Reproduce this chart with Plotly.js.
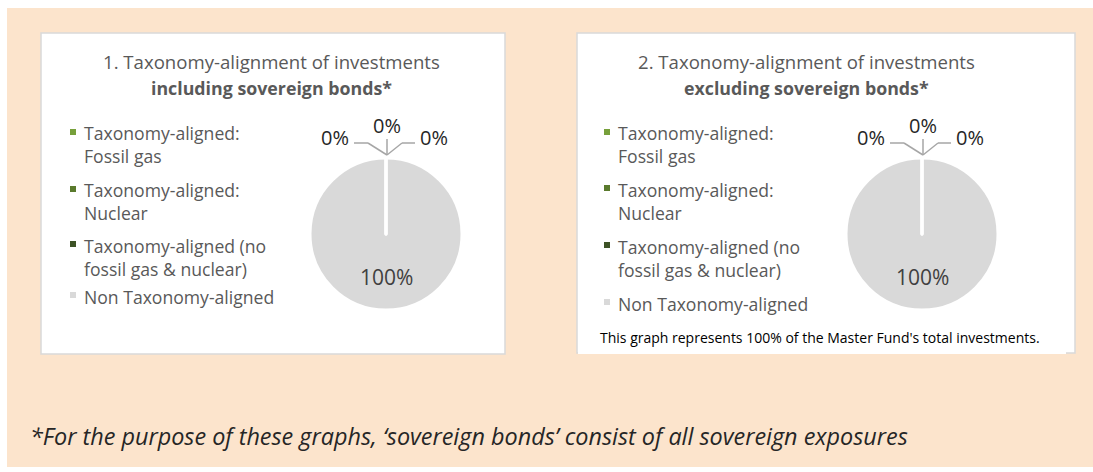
<!DOCTYPE html>
<html>
<head>
<meta charset="utf-8">
<script src="https://cdn.plot.ly/plotly-3.0.1.min.js"></script>
<style>html,body{margin:0;padding:0;background:#fff;}#chart{width:1093px;height:472px;}</style>
</head>
<body>
<div id="chart"></div>
<script>
// ---- data ----
const categories = ["Taxonomy-aligned: Fossil gas", "Taxonomy-aligned: Nuclear", "Taxonomy-aligned (no fossil gas & nuclear)", "Non Taxonomy-aligned"];
const legendLabels = ["Taxonomy-aligned:<br>Fossil gas", "Taxonomy-aligned:<br>Nuclear", "Taxonomy-aligned (no<br>fossil gas & nuclear)", "Non Taxonomy-aligned"];
const valuesInclSovereign = [0, 0, 0, 100];
const valuesExclSovereign = [0, 0, 0, 100];
const sliceColors = ["#77A03B", "#5A7A2D", "#3D5326", "#D9D9D9"];
const chartTitles = ["1. Taxonomy-alignment of investments", "2. Taxonomy-alignment of investments"];
const chartSubtitles = ["including sovereign bonds*", "excluding sovereign bonds*"];
const noteText = "This graph represents 100% of the Master Fund's total investments.";
const footnoteText = "*For the purpose of these graphs, \u2018sovereign bonds\u2019 consist of all sovereign exposures";

// ---- layout helpers (pixel -> paper) ----
const W = 1093, H = 472;
const px = x => x / W;
const py = y => 1 - y / H;
const FONT = "'Open Sans', Lato, sans-serif";

const panels = [
  {x0: 41, y0: 33, x1: 505, y1: 354, cx: 386, cy: 234, r: 76, titleX: 271, legX: 73, legY: [144, 201, 256, 295]},
  {x0: 577, y0: 33, x1: 1075, y1: 353, cx: 922, cy: 234, r: 76, titleX: 806, legX: 607, legY: [144, 200, 257, 302]}
];
const datasets = [valuesInclSovereign, valuesExclSovereign];

const traces = [];
const shapes = [];
const annotations = [];

// background
shapes.push({type: 'rect', xref: 'paper', yref: 'paper', x0: px(7), x1: px(1093), y0: py(467), y1: py(8),
  fillcolor: '#FCE4CC', line: {width: 0}, layer: 'below'});

panels.forEach((p, k) => {
  const vals = datasets[k];
  const total = vals.reduce((a, b) => a + b, 0);
  const pct = v => Math.round(100 * v / total) + '%';

  shapes.push({type: 'rect', xref: 'paper', yref: 'paper', x0: px(p.x0), x1: px(p.x1), y0: py(p.y1), y1: py(p.y0),
    fillcolor: '#FFFFFF', line: {color: '#D9D9D9', width: 1.5}, layer: 'below'});

  traces.push({
    type: 'pie', values: vals, labels: categories, sort: true, direction: 'clockwise', rotation: 0,
    marker: {colors: sliceColors, line: {color: '#FFFFFF', width: 3}},
    textinfo: 'none', hoverinfo: 'label+percent', showlegend: false,
    domain: {x: [px(p.cx - p.r), px(p.cx + p.r)], y: [py(p.cy + p.r), py(p.cy - p.r)]}
  });

  // titles
  annotations.push({xref: 'paper', yref: 'paper', x: px(p.titleX), y: py(62), text: chartTitles[k], showarrow: false,
    xanchor: 'center', yanchor: 'middle', font: {family: FONT, size: 18.6, color: '#595959'}});
  annotations.push({xref: 'paper', yref: 'paper', x: px(p.titleX), y: py(88), text: '<b>' + chartSubtitles[k] + '</b>', showarrow: false,
    xanchor: 'center', yanchor: 'middle', font: {family: FONT, size: 17.8, color: '#595959'}});

  // legend
  legendLabels.forEach((lab, i) => {
    const nLines = lab.split('<br>').length;
    const yTop = p.legY[i] - (nLines === 2 ? 12 : 0);
    shapes.push({type: 'rect', xref: 'paper', yref: 'paper', x0: px(p.legX - 3), x1: px(p.legX + 3),
      y0: py(yTop + 3), y1: py(yTop - 3), fillcolor: sliceColors[i], line: {width: 0}});
    annotations.push({xref: 'paper', yref: 'paper', x: px(p.legX + 9), y: py(yTop - 12.5), text: lab, showarrow: false,
      xanchor: 'left', yanchor: 'top', align: 'left', font: {family: FONT, size: 17.6, color: '#595959'}});
  });

  // data labels with leader lines for the small slices
  const tip = {x: p.cx + 1, y: p.cy - p.r - 3};
  const lead = [
    {lx: p.cx - 51, ly: p.cy - 97, pts: [[tip.x, tip.y], [p.cx - 18, p.cy - 91], [p.cx - 32, p.cy - 91]]},
    {lx: p.cx + 1, ly: p.cy - 108, pts: [[tip.x, tip.y], [tip.x, p.cy - 95]]},
    {lx: p.cx + 48, ly: p.cy - 97, pts: [[tip.x, tip.y], [p.cx + 16, p.cy - 91], [p.cx + 29, p.cy - 91]]}
  ];
  let s = 0;
  vals.forEach((v, i) => {
    if (v / total < 0.05) {
      const L = lead[s++ % 3];
      for (let j = 0; j < L.pts.length - 1; j++) {
        shapes.push({type: 'line', xref: 'paper', yref: 'paper', x0: px(L.pts[j][0]), y0: py(L.pts[j][1]),
          x1: px(L.pts[j + 1][0]), y1: py(L.pts[j + 1][1]), line: {color: '#A6A6A6', width: 1.5}});
      }
      annotations.push({xref: 'paper', yref: 'paper', x: px(L.lx), y: py(L.ly), text: pct(v), showarrow: false,
        xanchor: 'center', yanchor: 'middle', font: {family: FONT, size: 20, color: '#262626'}});
    } else {
      annotations.push({xref: 'paper', yref: 'paper', x: px(p.cx), y: py(p.cy + 43), text: pct(v), showarrow: false,
        xanchor: 'center', yanchor: 'middle', font: {family: FONT, size: 21, color: '#404040'}});
    }
  });
});

// note box in panel 2
shapes.push({type: 'rect', xref: 'paper', yref: 'paper', x0: px(578), x1: px(1066), y0: py(354), y1: py(318),
  fillcolor: '#FFFFFF', line: {width: 0}});
annotations.push({xref: 'paper', yref: 'paper', x: px(598), y: py(337), text: noteText, showarrow: false,
  xanchor: 'left', yanchor: 'middle', font: {family: FONT, size: 14, color: '#000000'}});

// footnote
annotations.push({xref: 'paper', yref: 'paper', x: px(28), y: py(436), text: '<i>' + footnoteText + '</i>', showarrow: false,
  xanchor: 'left', yanchor: 'middle', font: {family: FONT, size: 23.4, color: '#262626'}});

const layout = {
  width: W, height: H, margin: {l: 0, r: 0, t: 0, b: 0}, paper_bgcolor: '#FFFFFF', plot_bgcolor: '#FFFFFF',
  showlegend: false, shapes: shapes, annotations: annotations, font: {family: FONT}
};
Plotly.newPlot('chart', traces, layout, {displayModeBar: false});
</script>
</body>
</html>
